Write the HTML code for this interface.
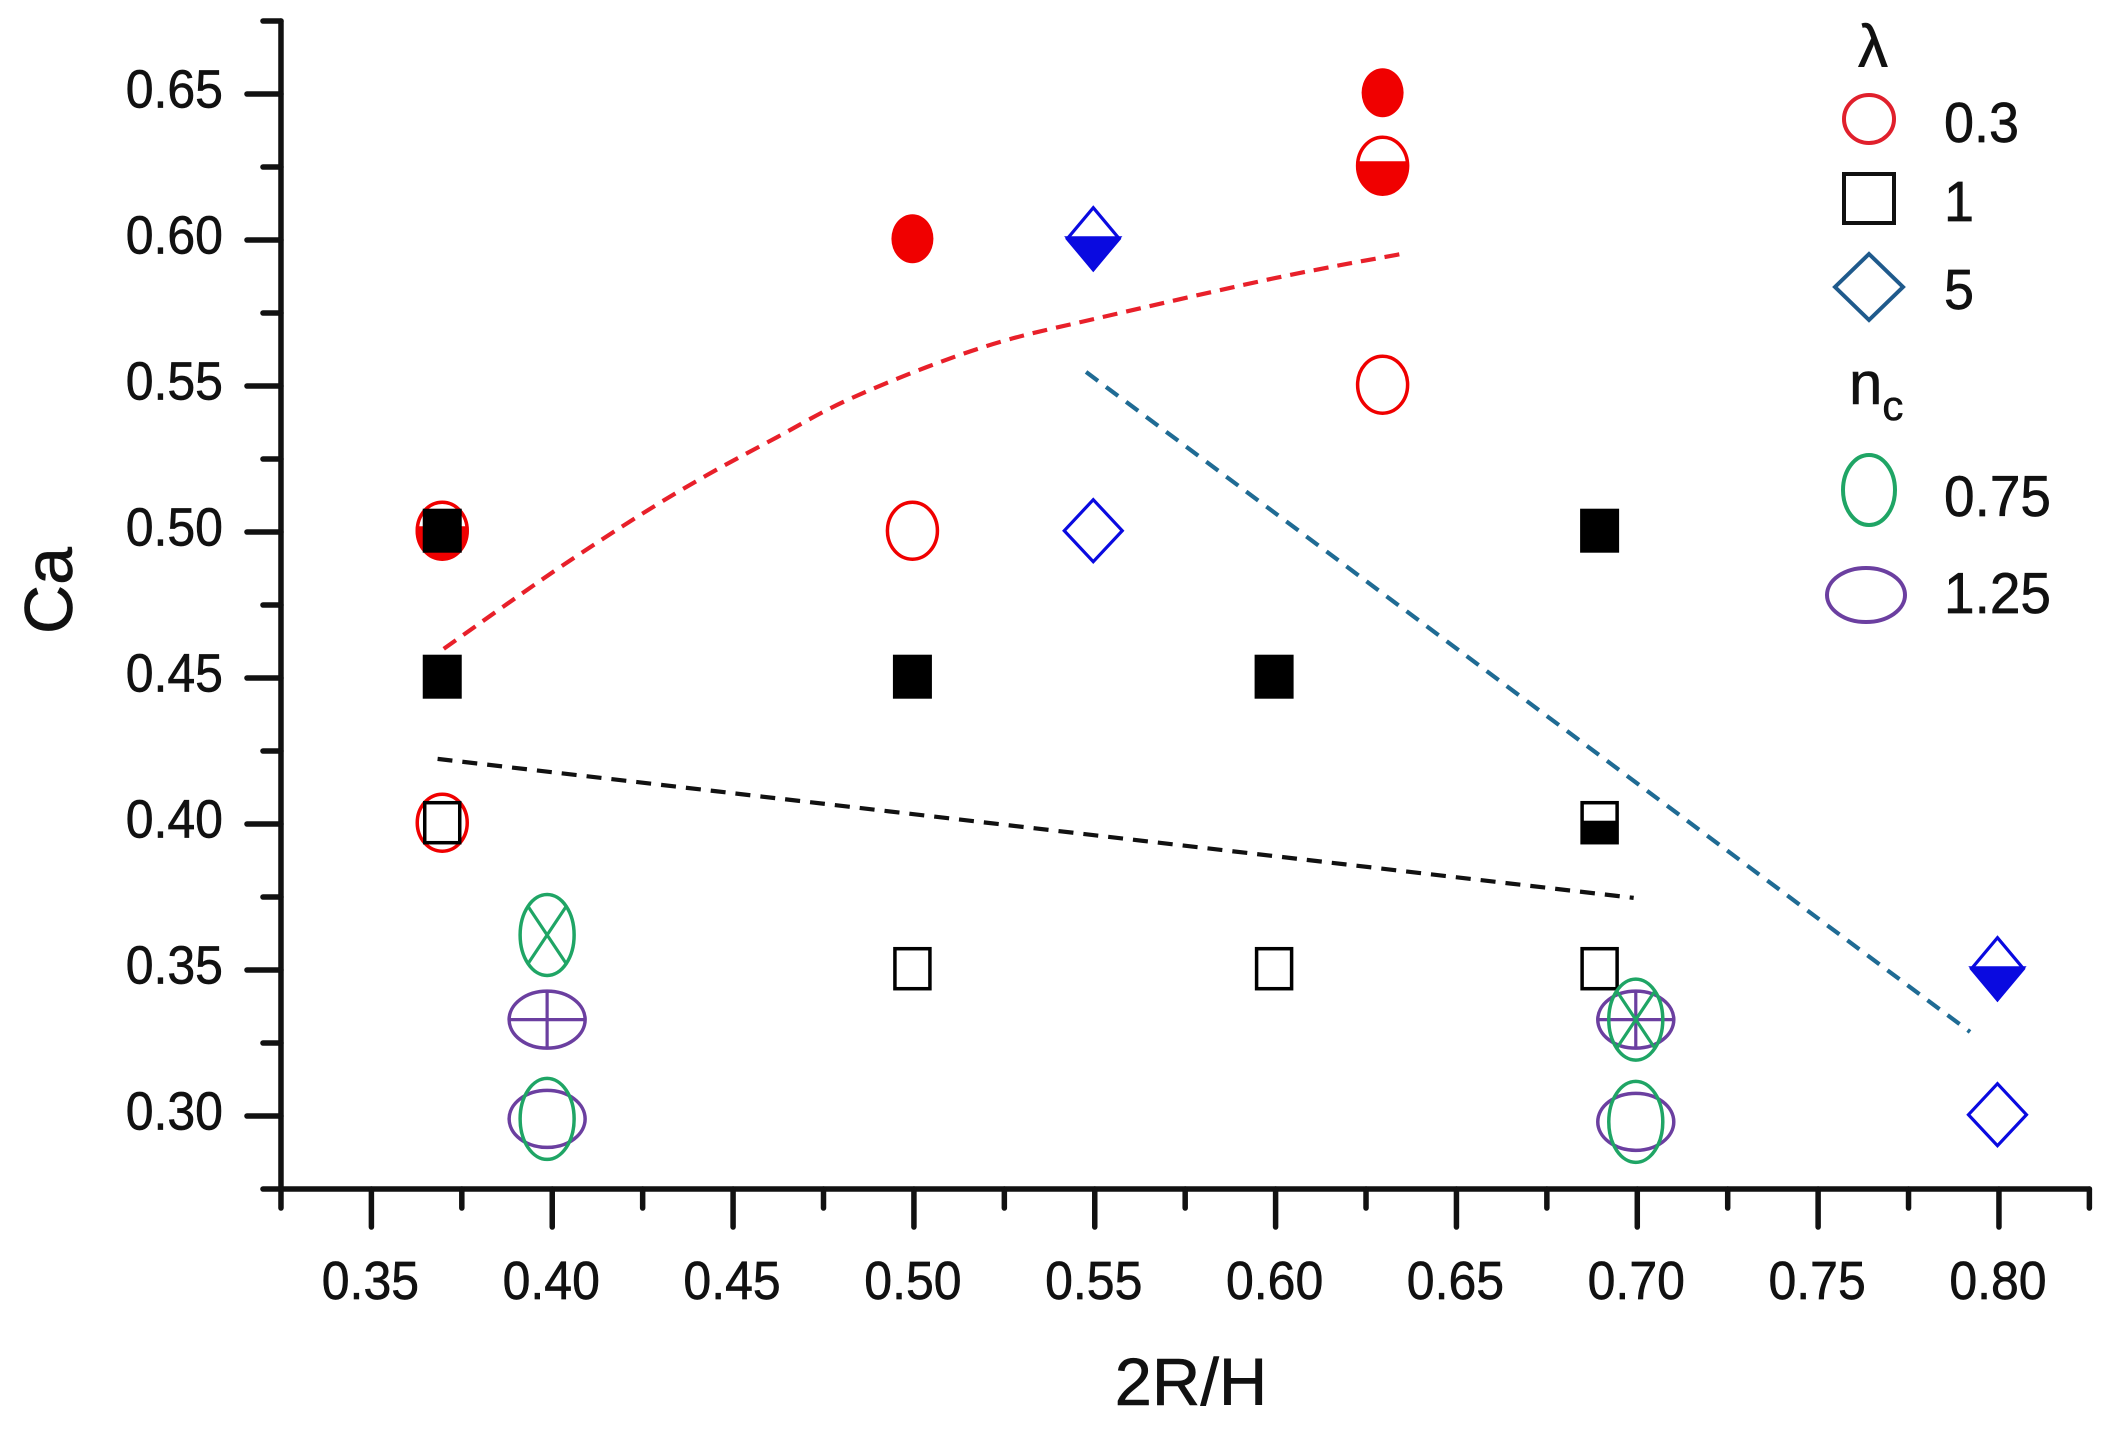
<!DOCTYPE html>
<html lang="en">
<head>
<meta charset="utf-8">
<title>Ca versus 2R/H regime map</title>
<style>
  html, body { margin: 0; padding: 0; background: #fff; }
  #chart { display: block; width: 2111px; height: 1430px; background: #fff; }
  text { font-family: "Liberation Sans", Arial, sans-serif; fill: #111; stroke: #111; stroke-width: 0.6px; }
</style>
</head>
<body>
<svg id="chart" xmlns="http://www.w3.org/2000/svg" width="2111" height="1430" viewBox="0 0 2111 1430">
  <rect x="0" y="0" width="2111" height="1430" fill="#fff"/>
  <g id="lines"></g>
  <g id="marks"></g>
  <g id="axes"></g>

  <text transform="translate(72,634) rotate(-90)" font-size="68">Ca</text>
  <text x="1191" y="1405" text-anchor="middle" font-size="67">2R/H</text>

  <g>
    <text x="1873" y="67" text-anchor="middle" font-size="60">λ</text>
    <ellipse cx="1869" cy="119" rx="25" ry="24" fill="none" stroke="#e0202c" stroke-width="4"/>
    <text transform="translate(1944,142) scale(1,1.05)" font-size="54">0.3</text>
    <rect x="1844" y="174" width="50" height="49" fill="none" stroke="#111" stroke-width="4"/>
    <text transform="translate(1944,221) scale(1,1.05)" font-size="54">1</text>
    <polygon points="1869,254 1903,287 1869,320 1835,287" fill="none" stroke="#1f5a8c" stroke-width="4"/>
    <text transform="translate(1944,309) scale(1,1.05)" font-size="54">5</text>
    <text x="1849" y="404" font-size="60">n<tspan font-size="42" dy="16">c</tspan></text>
    <ellipse cx="1869" cy="490" rx="26" ry="35" fill="none" stroke="#1fa565" stroke-width="4"/>
    <text transform="translate(1944,516) scale(1,1.05)" font-size="55">0.75</text>
    <ellipse cx="1866" cy="595" rx="39" ry="27" fill="none" stroke="#6b3fa0" stroke-width="4"/>
    <text transform="translate(1944,613) scale(1,1.05)" font-size="55">1.25</text>
  </g>
</svg>
<script>
// ---- chart data -------------------------------------------------------
var xMajorTicks = [0.35, 0.40, 0.45, 0.50, 0.55, 0.60, 0.65, 0.70, 0.75, 0.80];
var xMinorTicks = [0.325, 0.375, 0.425, 0.475, 0.525, 0.575, 0.625, 0.675, 0.725, 0.775, 0.825];
var yMajorTicks = [0.30, 0.35, 0.40, 0.45, 0.50, 0.55, 0.60, 0.65];
var yMinorTicks = [0.275, 0.325, 0.375, 0.425, 0.475, 0.525, 0.575, 0.625, 0.675];

var redOpenPoints = [[0.37, 0.40], [0.50, 0.50], [0.63, 0.55]];
var redFilledPoints = [[0.50, 0.60], [0.63, 0.65]];
var redHalfPoints = [[0.37, 0.50], [0.63, 0.625]];
var blackFilledPoints = [[0.37, 0.50], [0.37, 0.45], [0.50, 0.45], [0.60, 0.45], [0.69, 0.50]];
var blackOpenPoints = [[0.37, 0.40], [0.50, 0.35], [0.60, 0.35], [0.69, 0.35]];
var blackHalfPoints = [[0.69, 0.40]];
var blueOpenPoints = [[0.55, 0.50], [0.80, 0.30]];
var blueHalfPoints = [[0.55, 0.60], [0.80, 0.35]];
var purplePoints = [[0.399, 0.333], [0.399, 0.299], [0.70, 0.333], [0.70, 0.298]];
var purpleCrossedPoints = [[0.399, 0.333], [0.70, 0.333]];
var greenPoints = [[0.399, 0.362], [0.399, 0.299], [0.70, 0.333], [0.70, 0.298]];
var greenCrossedPoints = [[0.399, 0.362], [0.70, 0.333]];

var redBoundary = [[0.37, 0.46], [0.4002, 0.4863], [0.4243, 0.5058], [0.4428, 0.5195], [0.4622, 0.5325], [0.4804, 0.5445], [0.5036, 0.5565], [0.525, 0.5655], [0.55, 0.573], [0.60, 0.587], [0.636, 0.5955]];
var blackBoundary = [[0.3683, 0.4223], [0.699, 0.3747]];
var blueBoundary = [[0.5476, 0.5548], [0.792, 0.3288]];

// ---- axis functions ---------------------------------------------------
function xScale(v) { return 371.4 + (v - 0.35) * 3616.8; }
function yScale(v) { return 1116 - (v - 0.30) * 2920; }
function markX(v) { return xScale(v) - 1.5; }
function markY(v) { return yScale(v) - 1.3; }

var NS = 'http://www.w3.org/2000/svg';
function make(tag, attrs, parent) {
  var node = document.createElementNS(NS, tag);
  for (var k in attrs) { node.setAttribute(k, attrs[k]); }
  parent.appendChild(node);
  return node;
}
var axes = document.getElementById('axes');
var marks = document.getElementById('marks');
var lines = document.getElementById('lines');
var el;

// ---- boundaries -------------------------------------------------------
function smoothPath(pts) {
  var p = pts.map(function (d) { return [xScale(d[0]), yScale(d[1])]; });
  var s = 'M' + p[0][0] + ',' + p[0][1];
  for (var i = 0; i < p.length - 1; i++) {
    var a = p[Math.max(i - 1, 0)], b = p[i], c = p[i + 1], d = p[Math.min(i + 2, p.length - 1)];
    s += ' C' + (b[0] + (c[0] - a[0]) / 6) + ',' + (b[1] + (c[1] - a[1]) / 6) + ' ' +
         (c[0] - (d[0] - b[0]) / 6) + ',' + (c[1] - (d[1] - b[1]) / 6) + ' ' + c[0] + ',' + c[1];
  }
  return s;
}
el = make('path', {d: smoothPath(redBoundary), fill: 'none', stroke: '#e8202a', 'stroke-width': 4.2, 'stroke-dasharray': '15 9'}, lines);


el = make('path', {d: smoothPath(blackBoundary), fill: 'none', stroke: '#111', 'stroke-width': 4.2, 'stroke-dasharray': '15 10'}, lines);


el = make('path', {d: smoothPath(blueBoundary), fill: 'none', stroke: '#1f6b94', 'stroke-width': 4.2, 'stroke-dasharray': '15 10'}, lines);



// ---- axes -------------------------------------------------------------
var AXW = 5.5;
el = make('line', {x1: xScale(0.325), y1: yScale(0.675), x2: xScale(0.325), y2: yScale(0.275), stroke: '#111', 'stroke-width': AXW, 'stroke-linecap': 'round'}, axes);


el = make('line', {x1: xScale(0.325), y1: yScale(0.275), x2: xScale(0.825), y2: yScale(0.275), stroke: '#111', 'stroke-width': AXW, 'stroke-linecap': 'round'}, axes);



xMajorTicks.forEach(function (v) {
  var t = make('line', {x1: xScale(v), y1: yScale(0.275), x2: xScale(v), y2: yScale(0.275) + 38, stroke: '#111', 'stroke-width': AXW, 'stroke-linecap': 'round'}, axes);
  
  
  var l = make('text', {transform: 'translate(' + (xScale(v) - 1) + ',1299) scale(1,1.07)', 'text-anchor': 'middle', 'font-size': 50}, axes);
  l.textContent = v.toFixed(2);
  
  
});
xMinorTicks.forEach(function (v) {
  var t = make('line', {x1: xScale(v), y1: yScale(0.275), x2: xScale(v), y2: yScale(0.275) + 19, stroke: '#111', 'stroke-width': AXW, 'stroke-linecap': 'round'}, axes);
  
  
});
yMajorTicks.forEach(function (v) {
  var t = make('line', {x1: xScale(0.325), y1: yScale(v), x2: xScale(0.325) - 34, y2: yScale(v), stroke: '#111', 'stroke-width': AXW, 'stroke-linecap': 'round'}, axes);
  
  
  var l = make('text', {transform: 'translate(223,' + (yScale(v) + 13.5) + ') scale(1,1.07)', 'text-anchor': 'end', 'font-size': 50}, axes);
  l.textContent = v.toFixed(2);
  
  
});
yMinorTicks.forEach(function (v) {
  var t = make('line', {x1: xScale(0.325), y1: yScale(v), x2: xScale(0.325) - 18, y2: yScale(v), stroke: '#111', 'stroke-width': AXW, 'stroke-linecap': 'round'}, axes);
  
  
});

// ---- markers ----------------------------------------------------------
var RED = '#f00000', BLACK = '#000', BLUE = '#0a0ae0', GREEN = '#1fa565', PURPLE = '#6b3fa0';

redOpenPoints.forEach(function (d) {
  var m = make('ellipse', {cx: markX(d[0]), cy: markY(d[1]), rx: 25, ry: 28.5, fill: '#fff', stroke: RED, 'stroke-width': 3.5}, marks);
  
  
});
redFilledPoints.forEach(function (d) {
  var m = make('ellipse', {cx: markX(d[0]), cy: markY(d[1]), rx: 21, ry: 24.5, fill: RED}, marks);
  
  
});
redHalfPoints.forEach(function (d) {
  var cx = markX(d[0]), cy = markY(d[1]);
  var m = make('path', {d: 'M' + (cx - 24.9) + ',' + (cy - 3) + ' A25,28.5 0 1 0 ' + (cx + 24.9) + ',' + (cy - 3) + ' Z', fill: RED, stroke: RED, 'stroke-width': 3}, marks);
  
  
  var o = make('ellipse', {cx: cx, cy: cy, rx: 25, ry: 28.5, fill: 'none', stroke: RED, 'stroke-width': 3.5}, marks);
  
  
});
blackOpenPoints.forEach(function (d) {
  var m = make('rect', {x: markX(d[0]) - 17.5, y: markY(d[1]) - 20, width: 35, height: 40, fill: '#fff', stroke: BLACK, 'stroke-width': 3.5}, marks);
  
  
});
blackFilledPoints.forEach(function (d) {
  var m = make('rect', {x: markX(d[0]) - 19.5, y: markY(d[1]) - 22, width: 39, height: 44, fill: BLACK}, marks);
  
  
});
blackHalfPoints.forEach(function (d) {
  var cx = markX(d[0]), cy = markY(d[1]);
  var m = make('rect', {x: cx - 17.5, y: cy - 20, width: 35, height: 40, fill: '#fff', stroke: BLACK, 'stroke-width': 3.5}, marks);
  
  
  var f = make('rect', {x: cx - 17.5, y: cy - 2, width: 35, height: 22, fill: BLACK}, marks);
  
  
});
blueOpenPoints.forEach(function (d) {
  var cx = markX(d[0]), cy = markY(d[1]);
  var m = make('polygon', {points: cx + ',' + (cy - 31) + ' ' + (cx + 29) + ',' + cy + ' ' + cx + ',' + (cy + 31) + ' ' + (cx - 29) + ',' + cy, fill: '#fff', stroke: BLUE, 'stroke-width': 3.2}, marks);
  
  
});
blueHalfPoints.forEach(function (d) {
  var cx = markX(d[0]), cy = markY(d[1]);
  var m = make('polygon', {points: cx + ',' + (cy - 31) + ' ' + (cx + 26) + ',' + cy + ' ' + cx + ',' + (cy + 31) + ' ' + (cx - 26) + ',' + cy, fill: '#fff', stroke: BLUE, 'stroke-width': 3.2}, marks);
  
  
  var f = make('polygon', {points: (cx - 26) + ',' + (cy - 1) + ' ' + (cx + 26) + ',' + (cy - 1) + ' ' + cx + ',' + (cy + 31), fill: BLUE, stroke: BLUE, 'stroke-width': 3}, marks);
  
  
});
purplePoints.forEach(function (d) {
  var m = make('ellipse', {cx: markX(d[0]), cy: yScale(d[1]), rx: 38, ry: 28.5, fill: 'none', stroke: PURPLE, 'stroke-width': 3.5}, marks);
  
  
});
purpleCrossedPoints.forEach(function (d) {
  var cx = markX(d[0]), cy = yScale(d[1]);
  var m = make('path', {d: 'M' + (cx - 38) + ',' + cy + ' H' + (cx + 38) + ' M' + cx + ',' + (cy - 28.5) + ' V' + (cy + 28.5), fill: 'none', stroke: PURPLE, 'stroke-width': 3.2}, marks);
  
  
});
greenPoints.forEach(function (d) {
  var m = make('ellipse', {cx: markX(d[0]), cy: yScale(d[1]), rx: 27, ry: 40.5, fill: 'none', stroke: GREEN, 'stroke-width': 3.5}, marks);
  
  
});
greenCrossedPoints.forEach(function (d) {
  var cx = markX(d[0]), cy = yScale(d[1]), dx = 19, dy = 28.5;
  var m = make('path', {d: 'M' + (cx - dx) + ',' + (cy - dy) + ' L' + (cx + dx) + ',' + (cy + dy) + ' M' + (cx + dx) + ',' + (cy - dy) + ' L' + (cx - dx) + ',' + (cy + dy), fill: 'none', stroke: GREEN, 'stroke-width': 3.2}, marks);
  
  
});
</script>
</body>
</html>
